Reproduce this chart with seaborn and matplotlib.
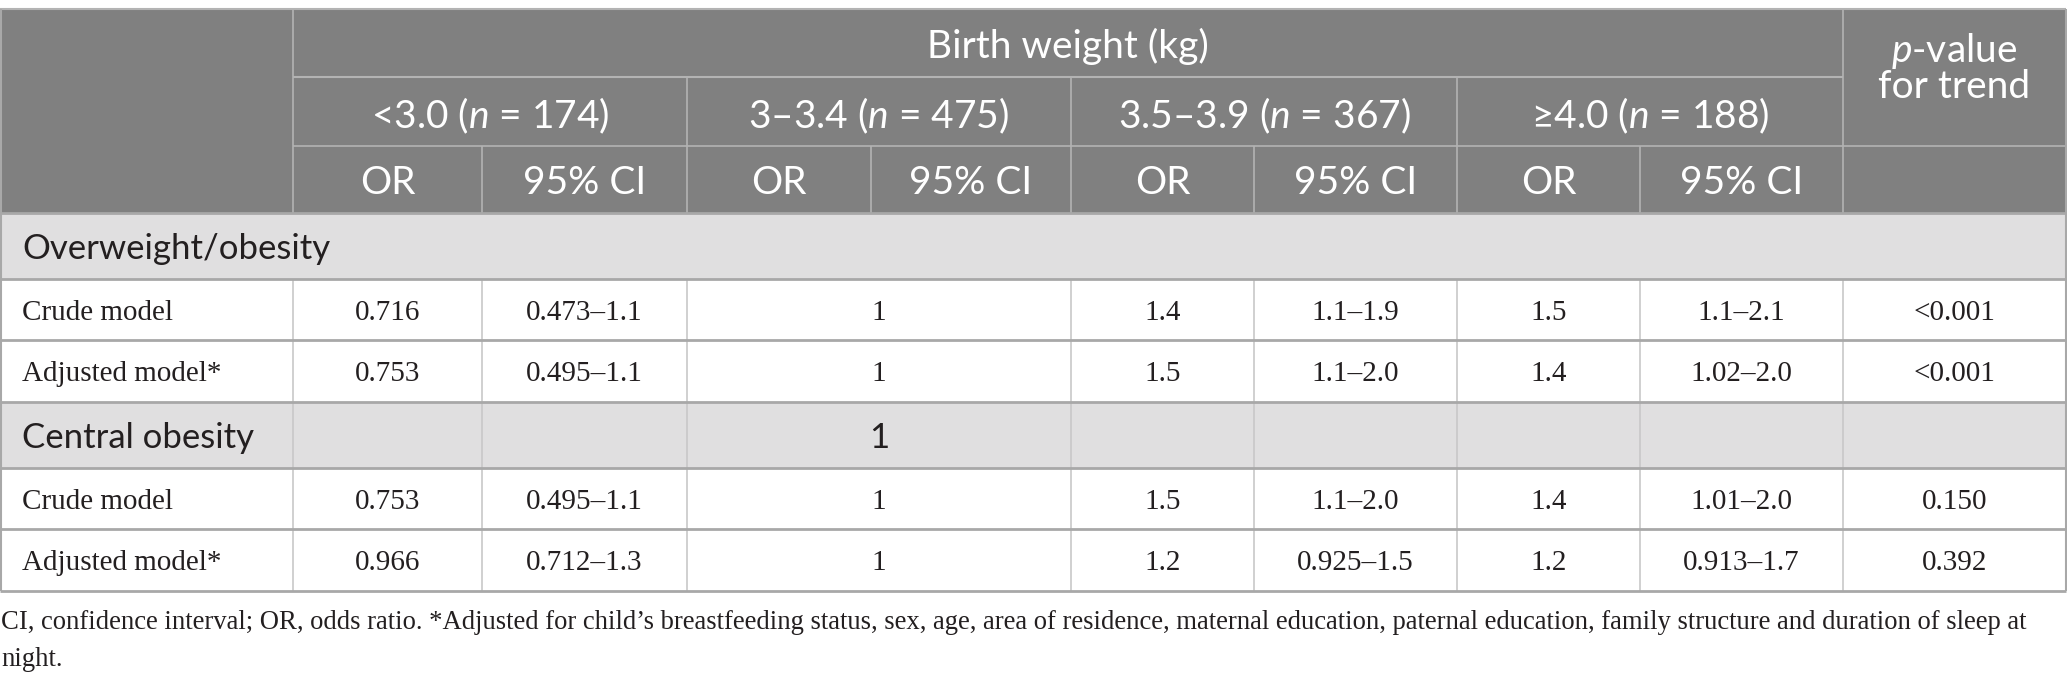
import seaborn as sns
import matplotlib.pyplot as plt
from matplotlib.patches import Rectangle

# datos de la tabla
grupos = ["<3.0", "3\u20133.4", "3.5\u20133.9", "\u22654.0"]
grupos_n = [174, 475, 367, 188]
secciones = ["Overweight/obesity", "Central obesity"]
modelos = ["Crude model", "Adjusted model*"]
or_menor3 = [["0.716", "0.753"], ["0.753", "0.966"]]
ic_menor3 = [["0.473\u20131.1", "0.495\u20131.1"], ["0.495\u20131.1", "0.712\u20131.3"]]
or_ref = [["1", "1"], ["1", "1"]]
or_35 = [["1.4", "1.5"], ["1.5", "1.2"]]
ic_35 = [["1.1\u20131.9", "1.1\u20132.0"], ["1.1\u20132.0", "0.925\u20131.5"]]
or_40 = [["1.5", "1.4"], ["1.4", "1.2"]]
ic_40 = [["1.1\u20132.1", "1.02\u20132.0"], ["1.01\u20132.0", "0.913\u20131.7"]]
p_tendencia = [["<0.001", "<0.001"], ["0.150", "0.392"]]
nota = ["CI, confidence interval; OR, odds ratio. *Adjusted for child\u2019s breastfeeding status, sex, age, "
        "area of residence, maternal education, paternal education, family structure and duration of sleep at",
        "night."]

# layout (pixeles)
col_x = [0, 293, 482, 687, 871, 1071, 1254, 1457, 1640, 1843, 2066]
fila_y = [9, 77, 146, 213, 279, 340, 402, 468, 529, 591]
nota_y = [629, 666]

sns.set_theme(style="white")
plt.rcParams['font.family'] = ['Lato', 'DejaVu Sans']
plt.rcParams['mathtext.fontset'] = 'custom'
plt.rcParams['mathtext.rm'] = 'Lato'
plt.rcParams['mathtext.it'] = 'Lato:italic'

gris_cab = '#808080'
gris_sec = '#e0dfe0'
linea_cab = '#b3b3b3'
linea_h = '#a8a8a8'
linea_v = '#c8c8c8'
negro = '#231f20'
serif = ['Liberation Serif', 'DejaVu Serif']
tam_cab = 28
tam_sec = 25
tam_serif = 21
tam_nota = 19.2

fig = plt.figure(figsize=(20.67, 6.85), dpi=100)
ax = fig.add_axes([0, 0, 1, 1])
ax.set_xlim(0, 2067)
ax.set_ylim(685, 0)
ax.axis('off')

def celda(x0, x1, y0, y1, color):
    ax.add_patch(Rectangle((x0, y0), x1 - x0, y1 - y0, facecolor=color, edgecolor='none', zorder=1))

def hl(y, x0, x1, c, lw):
    ax.plot([x0, x1], [y, y], color=c, lw=lw, zorder=3, solid_capstyle='butt')

def vl(x, y0, y1, c, lw):
    ax.plot([x, x], [y0, y1], color=c, lw=lw, zorder=3, solid_capstyle='butt')

def cx(i, j):
    return (col_x[i] + col_x[j]) / 2

def cy(i):
    return (fila_y[i] + fila_y[i + 1]) / 2

# cabecera
celda(col_x[0], col_x[-1], fila_y[0], fila_y[3], gris_cab)
hl(fila_y[0], col_x[0], col_x[-1], linea_cab, 1.5)
hl(fila_y[1], col_x[1], col_x[9], linea_cab, 1.5)
hl(fila_y[2], col_x[1], col_x[-1], linea_cab, 1.2)
for i in [1, 9]:
    vl(col_x[i], fila_y[0], fila_y[3], linea_cab, 1.2)
for i in [3, 5, 7]:
    vl(col_x[i], fila_y[1], fila_y[3], linea_cab, 1.2)
for i in [2, 4, 6, 8]:
    vl(col_x[i], fila_y[2], fila_y[3], linea_cab, 1.2)

ax.text(cx(1, 9), cy(0), "Birth weight (kg)", color='white', fontsize=tam_cab,
        ha='center', va='center_baseline', zorder=4)
ax.text(cx(9, 10), 46, "$p$-value", color='white', fontsize=tam_cab,
        ha='center', va='center_baseline', zorder=4)
ax.text(cx(9, 10), 83, "for trend", color='white', fontsize=tam_cab,
        ha='center', va='center_baseline', zorder=4)
for k, (g, n) in enumerate(zip(grupos, grupos_n)):
    i = 1 + 2 * k
    ax.text(cx(i, i + 2), cy(1), g + " ($n$ = " + str(n) + ")", color='white', fontsize=tam_cab,
            ha='center', va='center_baseline', zorder=4)
    ax.text(cx(i, i + 1), cy(2), "OR", color='white', fontsize=tam_cab,
            ha='center', va='center_baseline', zorder=4)
    ax.text(cx(i + 1, i + 2), cy(2), "95% CI", color='white', fontsize=tam_cab,
            ha='center', va='center_baseline', zorder=4)

# cuerpo
columnas = [(1, 2), (2, 3), (5, 6), (6, 7), (7, 8), (8, 9), (9, 10)]
for s, sec in enumerate(secciones):
    r = 3 + 3 * s
    celda(col_x[0], col_x[-1], fila_y[r], fila_y[r + 1], gris_sec)
    ax.text(22, cy(r), sec, color=negro, fontsize=tam_sec, ha='left', va='center_baseline', zorder=4)
    if s == 1:
        for i in [1, 2, 3, 5, 6, 7, 8, 9]:
            vl(col_x[i], fila_y[r], fila_y[r + 1], linea_v, 1.2)
        ax.text(cx(3, 5), cy(r), or_ref[s][0], color=negro, fontsize=tam_sec,
                ha='center', va='center_baseline', zorder=4)
    for m, mod in enumerate(modelos):
        f = r + 1 + m
        valores = [or_menor3[s][m], ic_menor3[s][m], or_35[s][m], ic_35[s][m],
                   or_40[s][m], ic_40[s][m], p_tendencia[s][m]]
        ax.text(22, cy(f), mod, color=negro, fontsize=tam_serif, family=serif,
                ha='left', va='center_baseline', zorder=4)
        ax.text(cx(3, 5), cy(f), or_ref[s][m], color=negro, fontsize=tam_serif, family=serif,
                ha='center', va='center_baseline', zorder=4)
        for v, (i, j) in zip(valores, columnas):
            ax.text(cx(i, j), cy(f), v, color=negro, fontsize=tam_serif, family=serif,
                    ha='center', va='center_baseline', zorder=4)
        for i in [1, 2, 3, 5, 6, 7, 8, 9]:
            vl(col_x[i], fila_y[f], fila_y[f + 1], linea_v, 1.2)

for r in range(3, 10):
    hl(fila_y[r], col_x[0], col_x[-1], linea_h, 2)
vl(col_x[0] + 0.8, fila_y[0], fila_y[-1], linea_h, 1.5)
vl(col_x[-1], fila_y[0], fila_y[-1], linea_h, 1.5)

for linea, y in zip(nota, nota_y):
    ax.text(1, y, linea, color=negro, fontsize=tam_nota, family=serif,
            ha='left', va='baseline', zorder=4)

fig.savefig('out.png', dpi=100)
